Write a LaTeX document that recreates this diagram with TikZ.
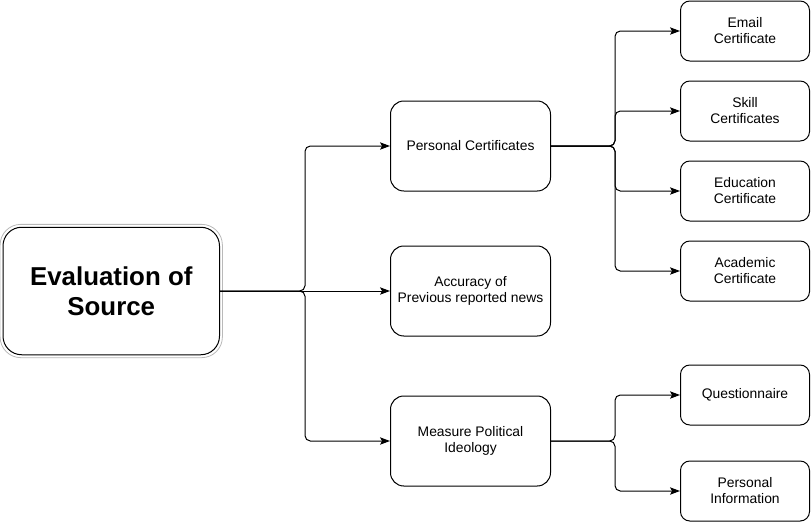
\documentclass[tikz,border=0pt]{standalone}
\usepackage{fontspec}
\setmainfont{Liberation Sans}
\usetikzlibrary{arrows.meta}
\tikzset{
  px/.style={x=0.75pt,y=-0.75pt},
  box/.style={draw=black, line width=0.75pt, rounded corners=10pt, align=center,
    minimum width=160*0.75pt, minimum height=90*0.75pt, inner sep=0pt,
    font=\fontsize{10.4}{12}\selectfont},
  leaf/.style={draw=black, line width=0.75pt, rounded corners=7pt, align=center,
    minimum width=129*0.75pt, minimum height=60*0.75pt, inner sep=0pt,
    font=\fontsize{10.4}{12}\selectfont},
  rootbox/.style={draw=black, line width=0.75pt, rounded corners=14pt, align=center,
    minimum width=216.5*0.75pt, minimum height=127.5*0.75pt, inner sep=0pt,
    font=\bfseries\fontsize{19.4}{22.5}\selectfont},
  conn/.style={draw=black, line width=0.75pt, rounded corners=4pt,
    -{Stealth[length=7.5pt,width=5.5pt,inset=1.6pt]}}
}
\begin{document}
\begin{tikzpicture}[px]
\useasboundingbox (0,0) rectangle (811,522);
% root
\node[rootbox] (root) at (111.25,291) {Evaluation of\\Source};
\draw[gray!55, line width=0.6pt, rounded corners=15.5pt]
  ([shift={(-1.8pt,1.8pt)}]root.north west) rectangle ([shift={(1.8pt,-1.8pt)}]root.south east);
% middle
\node[box] (pc) at (470.5,146) {Personal Certificates};
\node[box] (acc) at (470.5,291) {Accuracy of\\Previous reported news};
\node[box] (mp) at (470.5,441) {Measure Political\\Ideology};
% leaves
\node[leaf] (em) at (745,31) {Email\\Certificate};
\node[leaf] (sk) at (745,111) {Skill\\Certificates};
\node[leaf] (ed) at (745,191) {Education\\Certificate};
\node[leaf] (ac) at (745,271) {Academic\\Certificate};
\node[leaf] (qu) at (745,395) {Questionnaire};
\node[leaf] (pi) at (745,491) {Personal\\Information};
% junctions
\coordinate (j1) at (305,291);
\coordinate (j2) at (615,146);
\coordinate (j3) at (615,441);
% connectors
\draw[conn] (root.east) -- (j1) |- (pc.west);
\draw[conn] (root.east) -- (acc.west);
\draw[conn] (root.east) -- (j1) |- (mp.west);
\draw[conn] (pc.east) -- (j2) |- (em.west);
\draw[conn] (pc.east) -- (j2) |- (sk.west);
\draw[conn] (pc.east) -- (j2) |- (ed.west);
\draw[conn] (pc.east) -- (j2) |- (ac.west);
\draw[conn] (mp.east) -- (j3) |- (qu.west);
\draw[conn] (mp.east) -- (j3) |- (pi.west);
\end{tikzpicture}
\end{document}
